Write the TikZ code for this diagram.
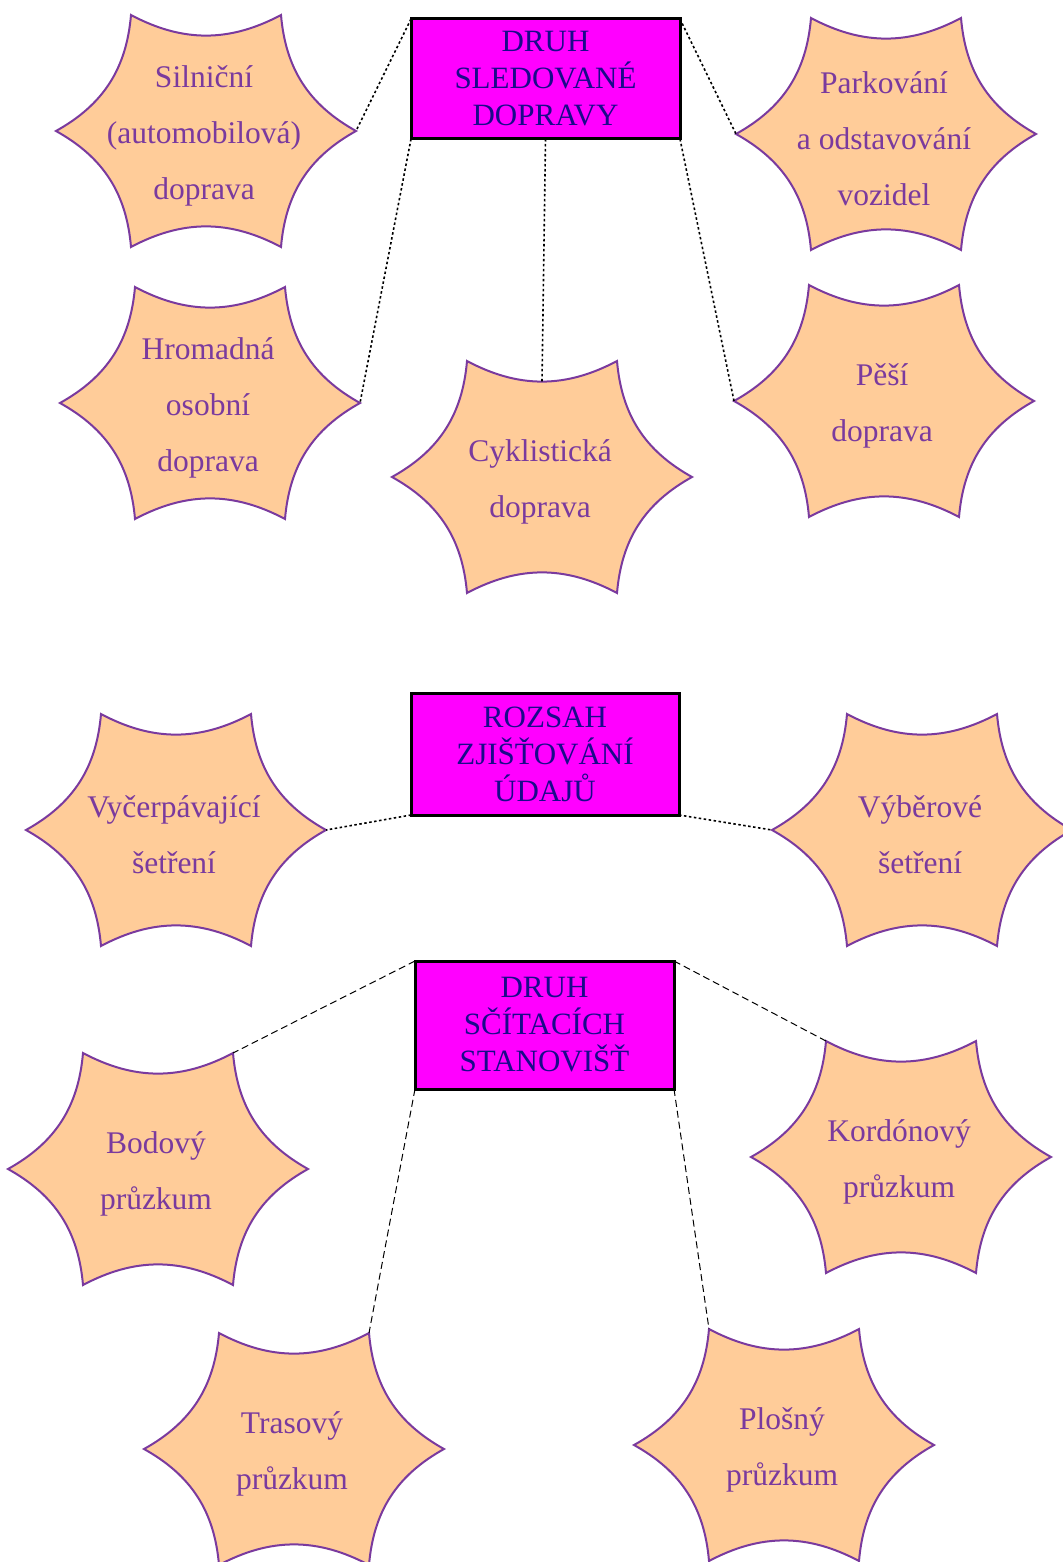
\documentclass[tikz,border=0pt]{standalone}
\usepackage{fontspec}
\setmainfont{Liberation Serif}
\usepackage{tikz}

\definecolor{hvezdafill}{HTML}{FFCC99}
\definecolor{hvezdaline}{HTML}{7A3A9E}
\definecolor{boxfill}{HTML}{FF00FF}
\definecolor{boxtext}{HTML}{1A0A8A}

\tikzset{
  hvezdy/.style={draw=hvezdaline, fill=hvezdafill, line width=2pt},
  popis/.style={text=hvezdaline, align=center, yshift=-4.5pt, font={\fontsize{31.5}{56}\selectfont}},
  druh/.style={draw=black, fill=boxfill, line width=3pt, text=boxtext, align=center,
    inner sep=0pt, outer sep=0pt, yshift=0pt, font={\fontsize{31}{37}\selectfont}},
  tecky/.style={line width=1.6pt, dash pattern=on 2.5pt off 2.5pt},
  carky/.style={line width=1pt, dash pattern=on 7pt off 4pt}
}

% star with six points, name / x / y / text
\newcommand{\hvezda}[4]{%
  \begin{scope}[shift={(#2,#3)}]
    \draw[hvezdy] (-150,0) coordinate (#1-l)
      to[bend right=28] (-75,-116) coordinate (#1-tl)
      to[bend right=28] coordinate[pos=0.5] (#1-t) (75,-116) coordinate (#1-tr)
      to[bend right=28] (150,0) coordinate (#1-r)
      to[bend right=28] (75,116) coordinate (#1-br)
      to[bend right=28] (-75,116) coordinate (#1-bl)
      to[bend right=28] cycle;
    \node[popis] (#1) at (-2,0) {#4};
  \end{scope}}

\begin{document}
\begin{tikzpicture}[x=1pt, y=-1pt]
\useasboundingbox (0,0) rectangle (1062,1562);

% Druh sledovane dopravy
\hvezda{silnicni}{206}{131}{Silniční\\(automobilová)\\doprava}
\hvezda{hromadna}{210}{403}{Hromadná\\osobní\\doprava}
\hvezda{cyklo}{542}{477}{Cyklistická\\doprava}
\hvezda{parkovani}{886}{134}{Parkování\\a odstavování\\vozidel}
\hvezda{pesi}{884}{401}{Pěší\\doprava}
\node[druh, minimum width=269, minimum height=120] (A) at (545.5,79) {DRUH\\SLEDOVANÉ\\DOPRAVY};

% Rozsah zjistovani
\hvezda{vycerp}{176}{830}{Vyčerpávající\\šetření}
\hvezda{vyber}{922}{830}{Výběrové\\šetření}
\node[druh, minimum width=268, minimum height=122] (B) at (545,754) {ROZSAH\\ZJIŠŤOVÁNÍ\\ÚDAJŮ};

% Druh scitacich stanovist
\hvezda{bodovy}{158}{1169}{Bodový\\průzkum}
\hvezda{kordon}{901}{1157}{Kordónový\\průzkum}
\hvezda{trasovy}{294}{1449}{Trasový\\průzkum}
\hvezda{plosny}{784}{1445}{Plošný\\průzkum}
\node[druh, minimum width=259, minimum height=128] (C) at (544.5,1025) {DRUH\\SČÍTACÍCH\\STANOVIŠŤ};

% Connectors
\draw[tecky] (A.north west) -- (silnicni-r);
\draw[tecky] (A.south west) -- (hromadna-r);
\draw[tecky] (A.south) -- (cyklo-t);
\draw[tecky] (A.north east) -- (parkovani-l);
\draw[tecky] (A.south east) -- (pesi-l);
\draw[tecky] (B.south west) -- (vycerp-r);
\draw[tecky] (B.south east) -- (vyber-l);
\draw[carky] (C.north west) -- (bodovy-tr);
\draw[carky] (C.north east) -- (kordon-tl);
\draw[carky] (C.south west) -- (trasovy-tr);
\draw[carky] (C.south east) -- (plosny-tl);
\end{tikzpicture}
\end{document}
